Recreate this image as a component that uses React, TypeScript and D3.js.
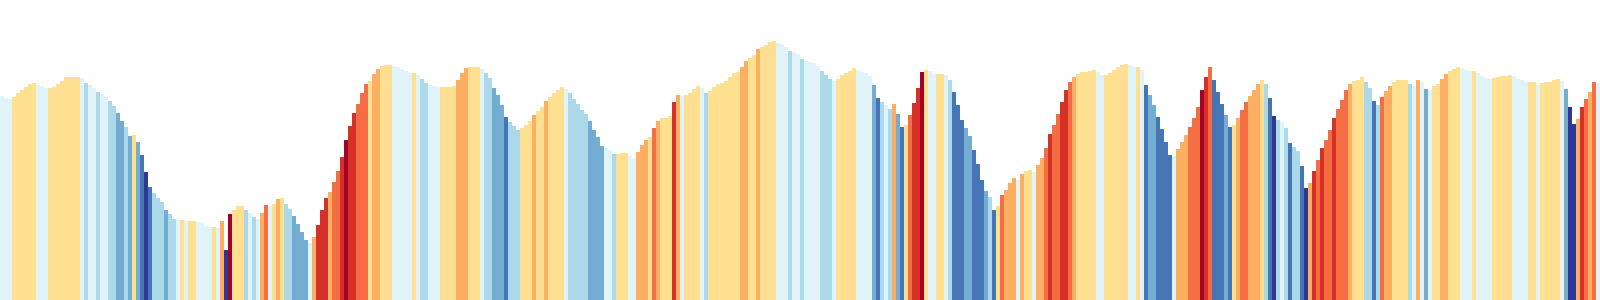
import React from "react";
import * as d3 from "d3";

// Elevation profile, one sample per stripe (arbitrary units above the baseline)
const elevation: number[] = [
  204, 202, 201, 203, 207, 210, 213, 216, 217, 215, 214, 212, 212, 213, 216, 219, 223, 223, 223, 223,
  222, 217, 215, 212, 208, 206, 203, 199, 194, 187, 179, 173, 164, 165, 158, 145, 128, 113, 107, 102,
  98, 90, 86, 81, 80, 80, 79, 79, 79, 78,
  77, 74, 73, 73, 72, 79, 50, 86, 90, 94, 94, 90, 87, 83, 81, 87, 95, 94, 96, 101,
  102, 96, 91, 84, 76, 68, 60, 57, 63, 75, 90, 102, 108, 118, 129, 143, 160, 174, 187, 196,
  207, 216, 219, 226, 231, 234, 235, 235, 234, 233,
  231, 229, 227, 227, 225, 221, 217, 215, 214, 213, 213, 213, 213, 214, 220, 227, 232, 233, 233, 233,
  231, 227, 222, 212, 205, 195, 183, 178, 174, 170, 172, 175, 179, 185, 189, 193, 199, 203, 207, 210,
  213, 211, 207, 201, 196, 190, 186, 179, 170, 163,
  154, 152, 150, 146, 146, 147, 147, 144, 142, 148, 155, 160, 163, 172, 179, 182, 182, 184, 198, 205,
  204, 205, 207, 211, 214, 212, 207, 209, 213, 216, 217, 219, 223, 227, 228, 233, 239, 242, 245, 251,
  253, 255, 258, 259, 257, 256, 253, 249, 248, 246,
  241, 239, 238, 237, 234, 229, 225, 221, 219, 221, 225, 227, 229, 232, 230, 228, 227, 224, 215, 202,
  198, 195, 191, 196, 186, 173, 175, 185, 197, 212, 228, 230, 229, 226, 226, 226, 225, 220, 208, 195,
  180, 172, 164, 150, 136, 120, 109, 103, 90, 94,
  105, 110, 117, 122, 120, 126, 129, 130, 128, 135, 142, 152, 166, 175, 186, 198, 210, 218, 223, 226,
  228, 228, 229, 230, 228, 225, 225, 227, 230, 233, 235, 236, 235, 233, 233, 230, 215, 205, 195, 183,
  171, 158, 145, 144, 151, 158, 165, 173, 182, 193,
  210, 223, 233, 220, 208, 196, 185, 173, 175, 182, 190, 198, 204, 210, 216, 220, 216, 202, 184, 180,
  178, 172, 157, 153, 149, 134, 112, 117, 129, 140, 152, 160, 170, 182, 191, 200, 210, 216, 219, 220,
  223, 218, 212, 199, 195, 203, 209, 214, 218, 220,
  220, 220, 216, 214, 220, 218, 211, 210, 214, 216, 221, 226, 229, 231, 233, 232, 230, 229, 229, 227,
  224, 222, 221, 222, 223, 224, 224, 225, 224, 221, 220, 218, 218, 218, 215, 217, 218, 218, 220, 221,
  219, 211, 193, 176, 181, 193, 201, 208, 218, 217,
];

// Rise per sample that separates the grade classes
const gradeBreaks: number[] = [-16, -11, -6, -3.5, 0, 5, 8, 12, 16];
const gradeColors: string[] = [
  "#313695", "#4575b4", "#74add1", "#abd9e9", "#e0f3f8",
  "#fee090", "#fdae61", "#f46d43", "#d73027", "#a50026",
];

const W = 1600;
const H = 300;
const TOP = 40;
const MAX_ELEV = 260;

export default function App() {
  const n = elevation.length;
  const x = d3.scaleBand<number>().domain(d3.range(n)).range([0, W]).padding(0);
  const y = d3.scaleLinear().domain([0, MAX_ELEV]).range([H, TOP]);
  const color = d3.scaleThreshold<number, string>().domain(gradeBreaks).range(gradeColors);

  const grade = (i: number) =>
    i === 0 ? elevation[1] - elevation[0] : elevation[i] - elevation[i - 1];

  return (
    <svg
      width={W}
      height={H}
      style={{ position: "absolute", left: 0, top: 0, display: "block" }}
      shapeRendering="crispEdges"
    >
      {elevation.map((v, i) => (
        <rect
          key={i}
          x={x(i)!}
          y={y(v)}
          width={x.bandwidth()}
          height={H - y(v)}
          fill={color(grade(i))}
        />
      ))}
    </svg>
  );
}
